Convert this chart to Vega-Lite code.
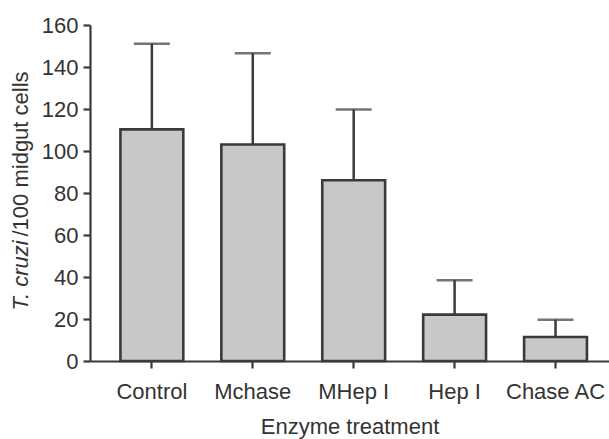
{
  "$schema": "https://vega.github.io/schema/vega-lite/v6.json",
  "width": 519,
  "height": 336,
  "autosize": "none",
  "padding": {"left": 90, "top": 25, "right": 0, "bottom": 78},
  "background": "white",
  "config": {
    "view": {"stroke": null},
    "font": "Liberation Sans",
    "axis": {
      "labelFont": "Liberation Sans",
      "titleFont": "Liberation Sans",
      "labelColor": "#333333",
      "titleColor": "#333333",
      "domainColor": "#3a3a3a",
      "tickColor": "#3a3a3a",
      "domainWidth": 2.2,
      "tickWidth": 2.2,
      "grid": false,
      "labelFontSize": 22,
      "titleFontSize": 22,
      "titleFontWeight": "normal"
    }
  },
  "data": {
    "values": [
      {"Treatment": "Control", "Mean": 110.3, "Upper": 151.1},
      {"Treatment": "Mchase", "Mean": 103.1, "Upper": 146.5},
      {"Treatment": "MHep I", "Mean": 86.1, "Upper": 119.8},
      {"Treatment": "Hep I", "Mean": 22.1, "Upper": 38.5},
      {"Treatment": "Chase AC", "Mean": 11.4, "Upper": 19.7}
    ]
  },
  "encoding": {
    "x": {
      "field": "Treatment",
      "type": "nominal",
      "sort": null,
      "scale": {"paddingInner": 0.377, "paddingOuter": 0.26, "align": 0.58},
      "axis": {
        "title": "Enzyme treatment",
        "labelAngle": 0,
        "tickSize": 7,
        "labelPadding": 13,
        "titleBaseline": "alphabetic",
        "titleY": 72
      }
    }
  },
  "layer": [
    {
      "mark": {"type": "bar", "fill": "#c8c8c8", "stroke": "#3a3a3a", "strokeWidth": 2.6},
      "encoding": {
        "y": {
          "field": "Mean",
          "type": "quantitative",
          "scale": {"domain": [0, 160], "nice": false},
          "axis": {
            "values": [0, 20, 40, 60, 80, 100, 120, 140, 160],
            "tickSize": 7,
            "labelPadding": 5,
            "title": "T. cruzi",
            "titleFontStyle": "italic",
            "titleAngle": -90,
            "titleAlign": "left",
            "titleBaseline": "alphabetic",
            "titleX": -63,
            "titleY": 285
          }
        }
      }
    },
    {
      "mark": {"type": "rule", "color": "#3a3a3a", "strokeWidth": 2.5},
      "encoding": {
        "y": {
          "field": "Mean",
          "type": "quantitative",
          "axis": {
            "orient": "right",
            "labels": false,
            "ticks": false,
            "domain": false,
            "title": "/100 midgut cells",
            "titleAngle": -90,
            "titleAlign": "left",
            "titleBaseline": "alphabetic",
            "titleX": -582,
            "titleY": 211
          }
        },
        "y2": {"field": "Upper"}
      }
    },
    {
      "mark": {"type": "tick", "color": "#3a3a3a", "thickness": 2.5, "size": 36, "orient": "horizontal"},
      "encoding": {
        "y": {"field": "Upper", "type": "quantitative", "axis": null}
      }
    }
  ],
  "resolve": {"axis": {"y": "independent"}}
}
